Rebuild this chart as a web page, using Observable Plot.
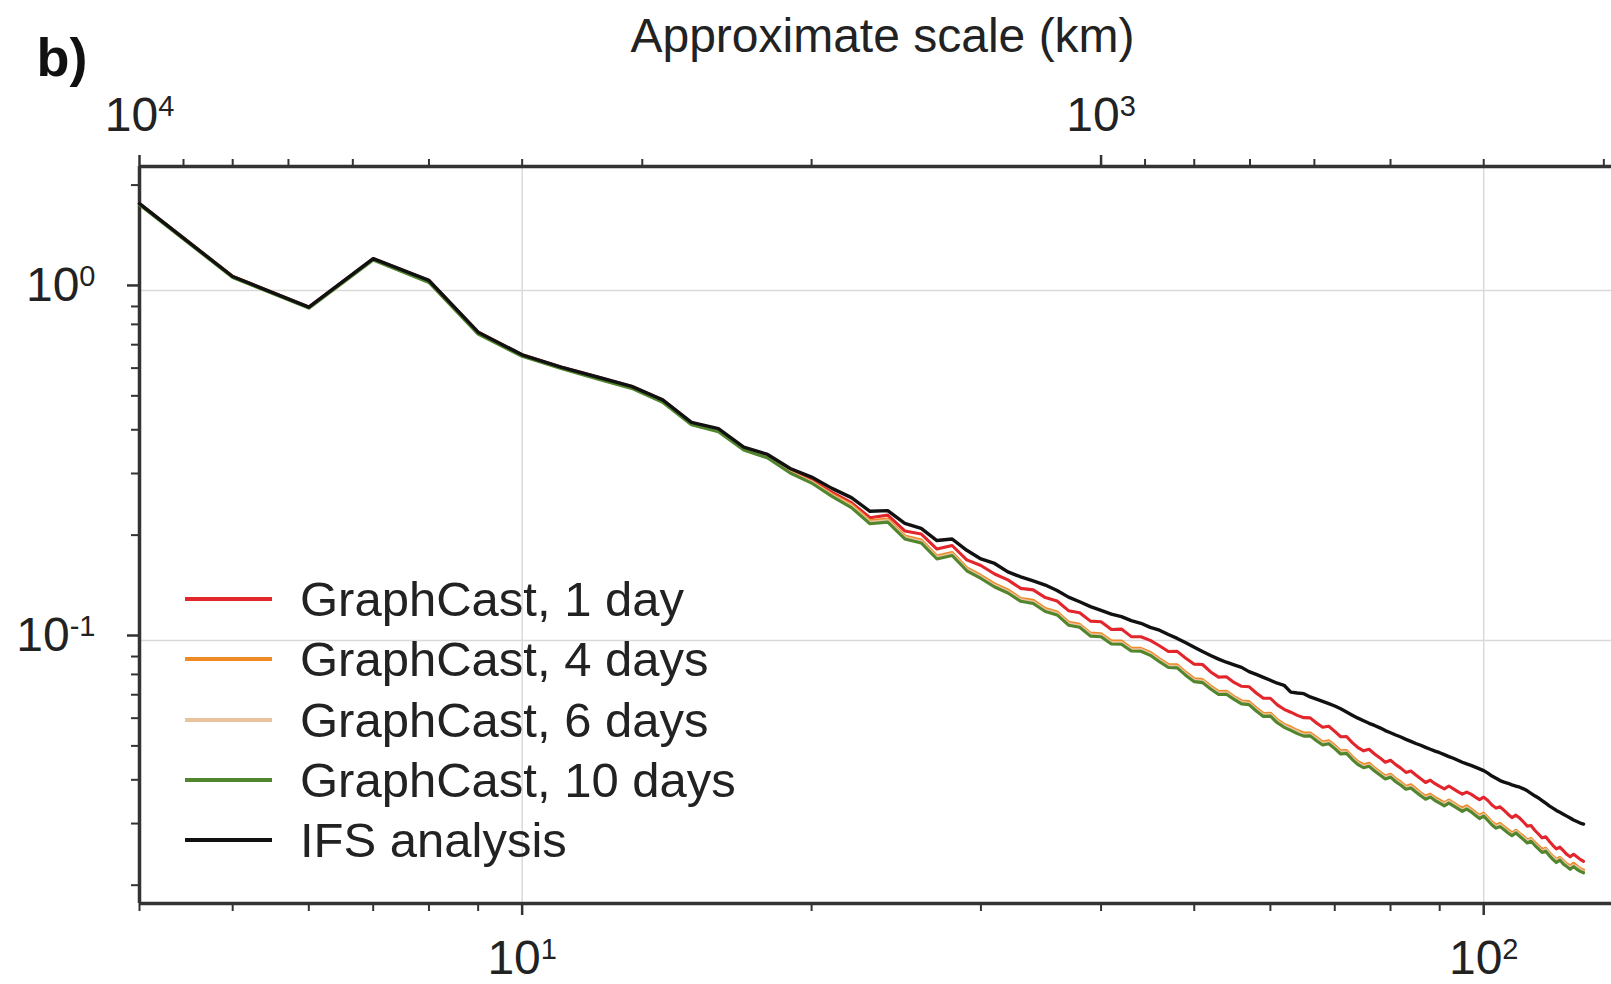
<!DOCTYPE html>
<html>
<head>
<meta charset="utf-8">
<script src="https://cdn.jsdelivr.net/npm/d3@7"></script>
<script src="https://cdn.jsdelivr.net/npm/@observablehq/plot@0.6"></script>
<style>
html, body { margin: 0; padding: 0; background: #fff; overflow: hidden; }
#wrap { position: relative; width: 1611px; height: 984px; font-family: "Liberation Sans", Arial, Helvetica, sans-serif; color: #222; }
.row { position: absolute; left: 185px; height: 48px; display: flex; align-items: center; font-size: 49px; line-height: 48px; white-space: nowrap; }
.sw { width: 87px; height: 4px; margin-right: 28px; }
</style>
</head>
<body>
<div id="wrap"></div>
<script>
// Wavenumbers (integer, 4 .. 127)
const wavenumber = d3.range(4, 128);

const ifsAnalysis = [
1.77,1.096,0.896,1.233,1.068,0.760,0.655,0.603,0.565,0.532,0.487,0.420,0.403,0.357,0.340,0.310,0.293,0.272,0.256,0.234,
0.235,0.216,0.209,0.193,0.195,0.181,0.171,0.166,0.157,0.152,0.148,0.144,0.139,0.133,0.129,0.125,0.122,0.119,0.117,0.114,
0.112,0.109,0.107,0.104,0.1014,0.0985,0.0957,0.0930,0.0906,0.0885,0.0867,0.0852,0.0838,0.0815,0.0800,0.0785,0.0770,0.0755,0.0745,0.0712,
0.0708,0.0705,0.0690,0.0680,0.0670,0.0660,0.0650,0.0638,0.0625,0.0612,0.0600,0.0590,0.0580,0.0572,0.0563,0.0553,0.0545,0.0537,0.0530,0.0522,
0.0515,0.0508,0.0502,0.0495,0.0489,0.0483,0.0478,0.0472,0.0466,0.0461,0.0455,0.0449,0.0444,0.0440,0.0435,0.0430,0.0425,0.0418,0.0410,0.0404,
0.0398,0.0394,0.0391,0.0387,0.0384,0.0381,0.0377,0.0372,0.0366,0.0360,0.0355,0.0349,0.0343,0.0337,0.0332,0.0327,0.0323,0.0319,0.0315,0.0311,
0.0307,0.0304,0.0301,0.0299];

const gc1Day = [
1.77,1.096,0.896,1.233,1.068,0.760,0.655,0.603,0.565,0.532,0.487,0.4186,0.4004,0.3547,0.3367,0.3059,0.2873,0.2649,0.2477,0.2242,
0.2281,0.2056,0.2016,0.1825,0.1868,0.1700,0.1638,0.1549,0.1490,0.1409,0.1395,0.1326,0.1297,0.1217,0.1200,0.1136,0.1131,0.1075,0.1078,0.1026,
0.1025,0.1001,0.0966,0.0930,0.0931,0.0890,0.0856,0.0854,0.0813,0.0786,0.0788,0.0759,0.0740,0.0738,0.0708,0.0684,0.0684,0.0655,0.0636,0.0624,
0.0611,0.0602,0.0601,0.0581,0.0565,0.0569,0.0550,0.0531,0.0532,0.0511,0.0494,0.0484,0.0489,0.0474,0.0462,0.0449,0.0455,0.0442,0.0432,0.0420,
0.0424,0.0413,0.0403,0.0393,0.0399,0.0390,0.0383,0.0377,0.0384,0.0377,0.0370,0.0364,0.0369,0.0364,0.0357,0.0351,0.0357,0.0349,0.0339,0.0332,
0.0335,0.0327,0.0319,0.0312,0.0317,0.0311,0.0303,0.0295,0.0296,0.0287,0.0280,0.0273,0.0275,0.0267,0.0260,0.0254,0.0257,0.0251,0.0245,0.0241,
0.0245,0.0241,0.0237,0.0234];

const gc4Days = [
1.77,1.096,0.896,1.229,1.061,0.755,0.6529,0.6010,0.5613,0.5285,0.4822,0.4159,0.3977,0.3523,0.3345,0.3029,0.2845,0.2615,0.2445,0.2198,
0.2222,0.1989,0.1938,0.1743,0.1784,0.1613,0.1534,0.1451,0.1395,0.1319,0.1302,0.1234,0.1207,0.1128,0.1112,0.1050,0.1045,0.0996,0.0996,0.0951,
0.0950,0.0925,0.0887,0.0854,0.0852,0.0811,0.0778,0.0773,0.0741,0.0715,0.0716,0.0692,0.0672,0.0669,0.0642,0.0619,0.0620,0.0594,0.0576,0.0566,
0.0553,0.0544,0.0544,0.0528,0.0513,0.0517,0.0501,0.0484,0.0485,0.0466,0.0451,0.0442,0.0446,0.0432,0.0421,0.0410,0.0415,0.0403,0.0394,0.0383,
0.0387,0.0377,0.0367,0.0359,0.0364,0.0356,0.0350,0.0344,0.0350,0.0344,0.0337,0.0332,0.0337,0.0330,0.0323,0.0317,0.0321,0.0312,0.0303,0.0297,
0.0300,0.0294,0.0288,0.0282,0.0287,0.0281,0.0276,0.0269,0.0272,0.0265,0.0259,0.0253,0.0255,0.0248,0.0242,0.0237,0.0240,0.0235,0.0230,0.0227,
0.0231,0.0227,0.0223,0.0221];

const gc6Days = [
1.764,1.0924,0.8931,1.2249,1.0575,0.7525,0.6507,0.5990,0.5594,0.5268,0.4806,0.4145,0.3964,0.3512,0.3334,0.3019,0.2835,0.2598,0.2421,0.2177,
0.2200,0.1970,0.1919,0.1726,0.1767,0.1597,0.1519,0.1436,0.1381,0.1307,0.1289,0.1222,0.1195,0.1117,0.1102,0.1040,0.1035,0.0986,0.0986,0.0942,
0.0941,0.0916,0.0878,0.0845,0.0843,0.0803,0.0770,0.0766,0.0734,0.0708,0.0709,0.0686,0.0666,0.0662,0.0635,0.0613,0.0614,0.0588,0.0571,0.0560,
0.0548,0.0538,0.0539,0.0523,0.0508,0.0512,0.0496,0.0479,0.0480,0.0461,0.0446,0.0437,0.0441,0.0428,0.0417,0.0406,0.0411,0.0399,0.0390,0.0379,
0.0383,0.0373,0.0364,0.0355,0.0360,0.0352,0.0346,0.0341,0.0347,0.0341,0.0334,0.0328,0.0333,0.0327,0.0320,0.0314,0.0318,0.0309,0.0300,0.0294,
0.0297,0.0291,0.0285,0.0279,0.0285,0.0279,0.0273,0.0267,0.0270,0.0262,0.0256,0.0250,0.0253,0.0246,0.0240,0.0235,0.0238,0.0233,0.0228,0.0225,
0.0228,0.0225,0.0221,0.0219];

const gc10Days = [
1.758,1.0888,0.8901,1.2209,1.0540,0.7501,0.6486,0.5971,0.5576,0.5250,0.4791,0.4131,0.3951,0.3500,0.3323,0.3010,0.2817,0.2581,0.2397,0.2155,
0.2179,0.1951,0.1900,0.1709,0.1749,0.1582,0.1504,0.1422,0.1367,0.1294,0.1276,0.1210,0.1183,0.1106,0.1091,0.1029,0.1025,0.0977,0.0976,0.0933,
0.0932,0.0907,0.0870,0.0837,0.0835,0.0795,0.0763,0.0758,0.0727,0.0701,0.0702,0.0679,0.0659,0.0656,0.0629,0.0607,0.0608,0.0582,0.0565,0.0554,
0.0542,0.0533,0.0534,0.0517,0.0503,0.0507,0.0491,0.0474,0.0476,0.0457,0.0442,0.0433,0.0437,0.0424,0.0413,0.0402,0.0407,0.0395,0.0386,0.0376,
0.0379,0.0369,0.0360,0.0352,0.0357,0.0349,0.0343,0.0337,0.0343,0.0337,0.0331,0.0325,0.0330,0.0324,0.0317,0.0310,0.0315,0.0306,0.0297,0.0291,
0.0294,0.0288,0.0282,0.0277,0.0282,0.0276,0.0270,0.0264,0.0267,0.0260,0.0254,0.0248,0.0250,0.0243,0.0237,0.0232,0.0236,0.0230,0.0226,0.0222,
0.0226,0.0222,0.0219,0.0217];

const seriesNames = ["GraphCast, 1 day", "GraphCast, 4 days", "GraphCast, 6 days", "GraphCast, 10 days", "IFS analysis"];
const seriesValues = [gc1Day, gc4Days, gc6Days, gc10Days, ifsAnalysis];
const seriesColors = ["#e2262b", "#f08a26", "#e9c39d", "#52862e", "#111111"];

// Axis ticks
const xMajorTicks = [10, 100];
const xMinorTicks = [4, 5, 6, 7, 8, 9, 20, 30, 40, 50, 60, 70, 80, 90];
const kmMajorTicks = [10000, 1000];
const kmMinorTicks = [9000, 8000, 7000, 6000, 5000, 4000, 3000, 2000, 900, 800, 700, 600, 500, 400, 300];
const yMajorTicks = [0.1, 1];
const yMinorTicks = [0.02, 0.03, 0.04, 0.05, 0.06, 0.07, 0.08, 0.09, 0.2, 0.3, 0.4, 0.5, 0.6, 0.7, 0.8, 0.9, 2];
const earthKm = 40000; // approximate scale (km) = 40000 / wavenumber

const xDomain = [4, 135.8];
const yDomain = [0.01773, 2.26];

const expFmt = d => `10^${Math.round(Math.log10(d))}`;
const axisColor = "#333";

const lineMarks = seriesValues.map((vals, i) =>
  Plot.line(wavenumber.map((k, j) => ({k, v: vals[j]})), {
    x: "k", y: "v", stroke: seriesColors[i], strokeWidth: i === 4 ? 3.4 : 3.1, strokeLinejoin: "round"
  })
);

const chart = Plot.plot({
  width: 1611,
  height: 984,
  marginLeft: 139,
  marginRight: 0,
  marginTop: 166,
  marginBottom: 81,
  style: {fontFamily: "'Liberation Sans', Arial, Helvetica, sans-serif", background: "white", color: "#222", overflow: "visible"},
  x: {type: "log", domain: xDomain, label: null},
  y: {type: "log", domain: yDomain, label: null},
  marks: [
    Plot.gridX({ticks: xMajorTicks, stroke: "#d9d9d9", strokeOpacity: 1, strokeWidth: 1.5}),
    Plot.gridY({ticks: yMajorTicks, stroke: "#d9d9d9", strokeOpacity: 1, strokeWidth: 1.5}),
    // bottom axis
    Plot.axisX({anchor: "bottom", ticks: xMinorTicks, tickSize: 8, tickFormat: () => "", stroke: axisColor, strokeWidth: 2, label: null}),
    Plot.axisX({anchor: "bottom", ticks: xMajorTicks, tickSize: 12, tickPadding: 24, tickFormat: expFmt, fontSize: 48, stroke: axisColor, strokeWidth: 2.5, fill: "#222", label: null}),
    // top axis: approximate scale in km
    Plot.axisX({anchor: "top", ticks: kmMinorTicks.map(km => earthKm / km), tickSize: 8, tickFormat: () => "", stroke: axisColor, strokeWidth: 2, label: null}),
    Plot.axisX({anchor: "top", ticks: kmMajorTicks.map(km => earthKm / km), tickSize: 12, tickPadding: 24, tickFormat: k => expFmt(earthKm / k), fontSize: 48, stroke: axisColor, strokeWidth: 2.5, fill: "#222", label: null}),
    // left axis
    Plot.axisY({anchor: "left", ticks: yMinorTicks, tickSize: 8, tickFormat: () => "", stroke: axisColor, strokeWidth: 2, label: null}),
    Plot.axisY({anchor: "left", ticks: yMajorTicks, tickSize: 12, tickPadding: 32, dy: -5, tickFormat: expFmt, fontSize: 48, stroke: axisColor, strokeWidth: 2.5, fill: "#222", label: null}),
    // frame (left, top, bottom)
    Plot.ruleX([xDomain[0]], {stroke: axisColor, strokeWidth: 3.5}),
    Plot.ruleY(yDomain, {stroke: axisColor, strokeWidth: 3.5}),
    ...lineMarks,
    Plot.text(["Approximate scale (km)"], {frameAnchor: "top", dx: 7, dy: -115, lineAnchor: "bottom", fontSize: 48, fill: "#222"}),
    Plot.text(["b)"], {frameAnchor: "top-left", dx: -103, dy: -91, lineAnchor: "bottom", textAnchor: "start", fontSize: 54, fontWeight: "bold", fill: "#111"})
  ]
});

// superscript exponents in tick labels
chart.querySelectorAll("text").forEach(t => {
  const m = /^10\^(-?\d+)$/.exec(t.textContent);
  if (!m) return;
  t.textContent = "10";
  const ts = document.createElementNS("http://www.w3.org/2000/svg", "tspan");
  ts.setAttribute("font-size", "29");
  ts.setAttribute("dy", "-15");
  ts.textContent = m[1];
  t.appendChild(ts);
});

const wrap = document.getElementById("wrap");
wrap.appendChild(chart);

// legend inside the plot area
seriesNames.forEach((name, i) => {
  const row = document.createElement("div");
  row.className = "row";
  row.style.top = (575 + i * 60.3) + "px";
  const sw = document.createElement("div");
  sw.className = "sw";
  sw.style.background = seriesColors[i];
  const label = document.createElement("span");
  label.textContent = name;
  row.appendChild(sw);
  row.appendChild(label);
  wrap.appendChild(row);
});
</script>
</body>
</html>
